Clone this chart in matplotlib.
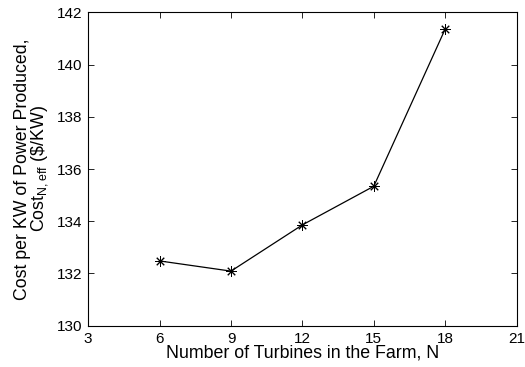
import matplotlib
matplotlib.use("Agg")
import matplotlib.pyplot as plt

plt.rcParams['font.family'] = ['Liberation Sans', 'DejaVu Sans']
plt.rcParams['mathtext.default'] = 'regular'

# turbines in farm vs effective cost
n_turbines = [6, 9, 12, 15, 18]
cost_eff = [132.48, 132.09, 133.86, 135.34, 141.36]

x_ticks = [3, 6, 9, 12, 15, 18, 21]
y_ticks = [130, 132, 134, 136, 138, 140, 142]

fig = plt.figure(figsize=(5.25, 3.67), dpi=100)
ax = fig.add_axes([0.168, 0.1125, 0.816, 0.854])

ax.plot(n_turbines, cost_eff, color='black', linewidth=0.9,
        marker=(8, 2, 0), markersize=7.5, markeredgewidth=0.7)

ax.set_xlim(3, 21)
ax.set_ylim(130, 142)
ax.set_xticks(x_ticks)
ax.set_yticks(y_ticks)
ax.tick_params(direction='in', top=True, right=True, length=4,
               width=0.6, labelsize=11)
ax.tick_params(axis='x', pad=4.5)
ax.tick_params(axis='y', pad=4)
for s in ax.spines.values():
    s.set_linewidth(0.8)

ax.set_xlabel("Number of Turbines in the Farm, N", fontsize=12.8, labelpad=-1)
ax.set_ylabel("Cost per KW of Power Produced,\nCost$_{N,eff}$ (\\$/KW)",
              fontsize=12.8, labelpad=5, linespacing=0.9)

fig.savefig("out.png", dpi=100)
